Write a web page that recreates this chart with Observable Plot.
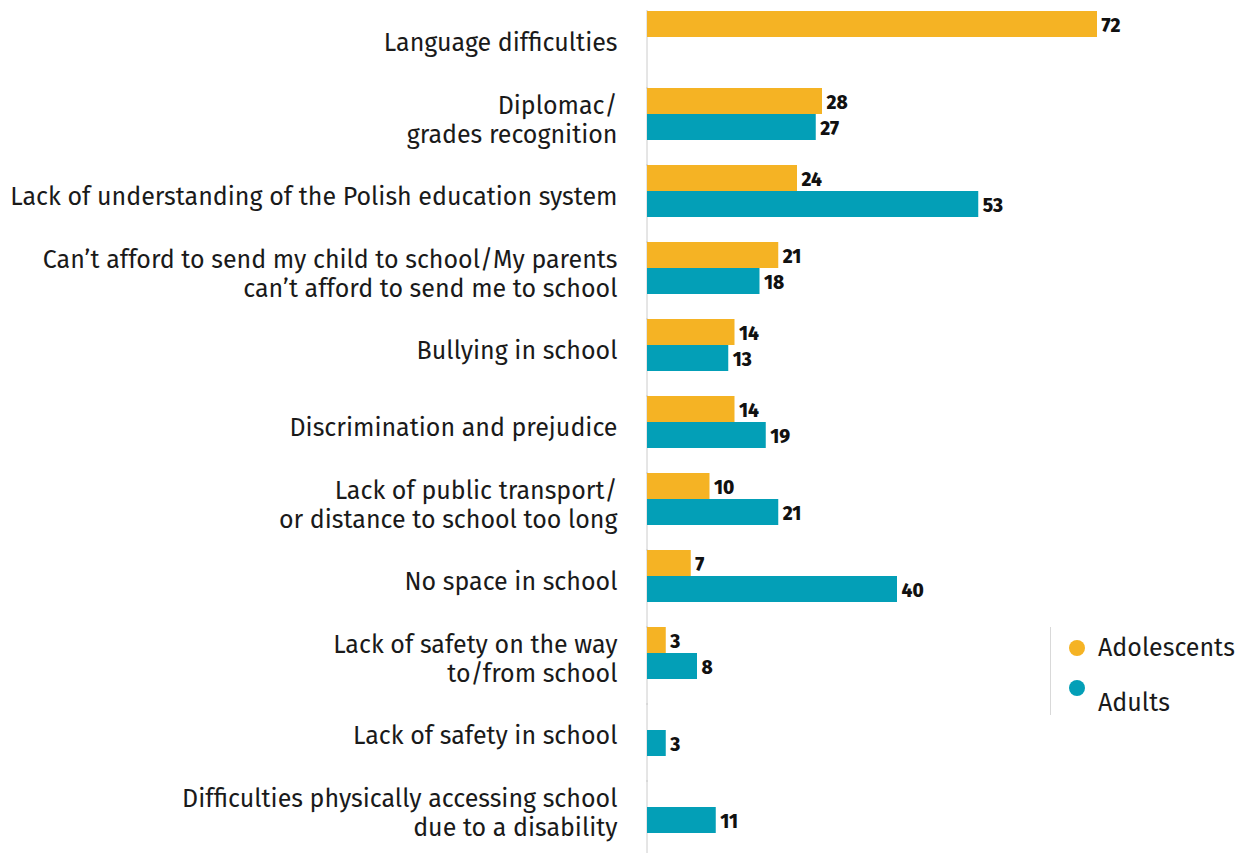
<!DOCTYPE html>
<html>
<head>
<meta charset="utf-8">
<script src="https://cdn.jsdelivr.net/npm/d3@7"></script>
<script src="https://cdn.jsdelivr.net/npm/@observablehq/plot@0.6"></script>
<style>
  body { margin: 0; background: #fff; }
  #wrap { position: relative; width: 1242px; height: 853px; overflow: hidden; font-family: "Fira Sans", "Open Sans", sans-serif; }
  #legend { position: absolute; left: 1050px; top: 627px; height: 88px; border-left: 1px solid #d9d9d9; padding-left: 18px; color: #1a1a1a; font-size: 25px; line-height: 30px; }
  .item { position: relative; height: 44px; padding-left: 30px; }
  .dot { position: absolute; left: 0; width: 16px; height: 16px; border-radius: 50%; }
  .lab { position: absolute; left: 29px; white-space: nowrap; }
</style>
</head>
<body>
<div id="wrap"><div id="chart"></div><div id="legend"></div></div>
<script>
const categories = [
  "Language difficulties",
  "Diplomac/\ngrades recognition",
  "Lack of understanding of the Polish education system",
  "Can’t afford to send my child to school/My parents\ncan’t afford to send me to school",
  "Bullying in school",
  "Discrimination and prejudice",
  "Lack of public transport/\nor distance to school too long",
  "No space in school",
  "Lack of safety on the way\nto/from school",
  "Lack of safety in school",
  "Difficulties physically accessing school\ndue to a disability"
];
const groups = ["Adolescents", "Adults"];
const adolescents = [72, 28, 24, 21, 14, 14, 10, 7, 3, null, null];
const adults = [null, 27, 53, 18, 13, 19, 21, 40, 8, 3, 11];
const colors = ["#F5B324", "#039FB7"];

const data = [];
categories.forEach((c, i) => {
  if (adolescents[i] != null) data.push({category: c, group: groups[0], value: adolescents[i]});
  if (adults[i] != null) data.push({category: c, group: groups[1], value: adults[i]});
});

const chart = Plot.plot({
  width: 1242,
  height: 853,
  marginLeft: 647,
  marginRight: 145,
  marginTop: 10,
  marginBottom: 19,
  style: {fontFamily: "'Fira Sans', 'Open Sans', sans-serif", background: "#fff"},
  x: {domain: [0, 72], axis: null},
  y: {domain: groups, axis: null, padding: 0},
  fy: {domain: categories, paddingInner: 0.31, paddingOuter: 0, label: null},
  color: {domain: groups, range: colors},
  marks: [
    Plot.ruleX([0], {stroke: "#cccccc", x: d => d, dx: -0.5, insetBottom: -26}),
    Plot.barX(data, {x: "value", y: "group", fy: "category", fill: "group"}),
    Plot.text(data, {x: "value", y: "group", fy: "category", text: d => String(d.value),
      textAnchor: "start", dx: 4, dy: 1, fontWeight: 800, fontSize: 19, fill: "#111"}),
    Plot.axisFy({anchor: "left", tickSize: 0, tickPadding: 30, fontSize: 25, label: null,
      lineHeight: 1.18, dy: 5, fill: "#1a1a1a"})
  ]
});
document.getElementById("chart").appendChild(chart);

const legend = document.getElementById("legend");
groups.forEach((g, i) => {
  const item = document.createElement("div");
  item.className = "item";
  const dot = document.createElement("div");
  dot.className = "dot";
  dot.style.background = colors[i];
  dot.style.top = i === 0 ? "13px" : "9px";
  const lab = document.createElement("div");
  lab.className = "lab";
  lab.textContent = g;
  lab.style.top = i === 0 ? "6px" : "17px";
  item.appendChild(dot);
  item.appendChild(lab);
  legend.appendChild(item);
});
</script>
</body>
</html>
